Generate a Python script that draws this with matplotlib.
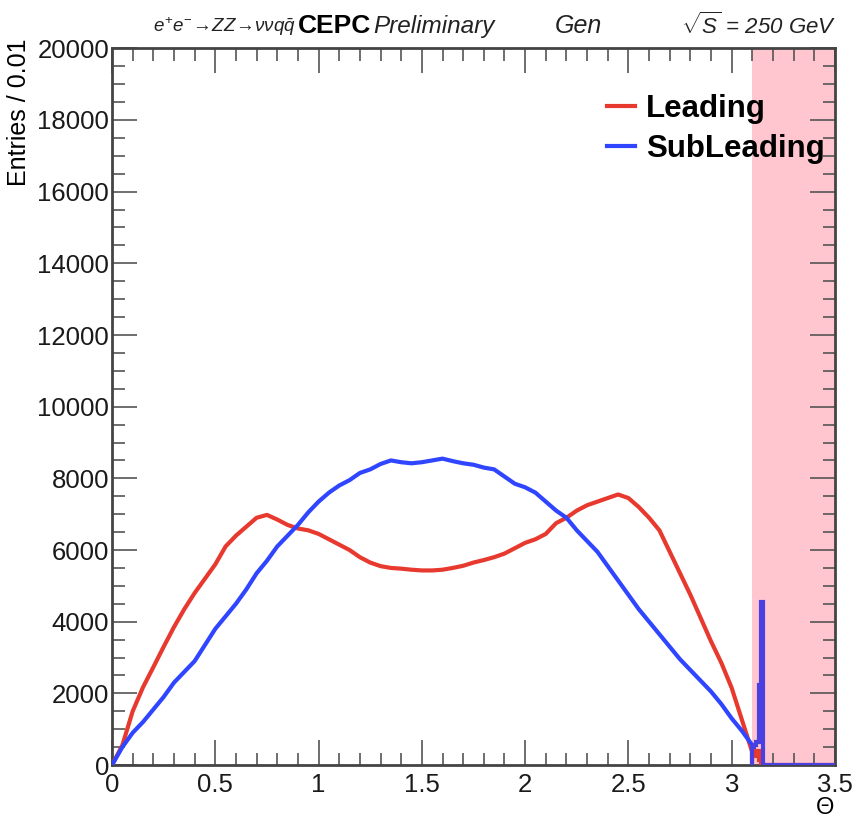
import matplotlib
matplotlib.use("Agg")
import matplotlib.pyplot as plt
from matplotlib.ticker import MultipleLocator

fam = ['Liberation Sans', 'DejaVu Sans']
plt.rcParams['font.family'] = fam
plt.rcParams['mathtext.fontset'] = 'custom'
plt.rcParams['mathtext.it'] = 'Liberation Sans:italic'
plt.rcParams['mathtext.rm'] = 'Liberation Sans'

# Bin centres (theta) and contents
theta = [0.00, 0.05, 0.10, 0.15, 0.20, 0.25, 0.30, 0.35, 0.40, 0.45,
         0.50, 0.55, 0.60, 0.65, 0.70, 0.75, 0.80, 0.85, 0.90, 0.95,
         1.00, 1.05, 1.10, 1.15, 1.20, 1.25, 1.30, 1.35, 1.40, 1.45,
         1.50, 1.55, 1.60, 1.65, 1.70, 1.75, 1.80, 1.85, 1.90, 1.95,
         2.00, 2.05, 2.10, 2.15, 2.20, 2.25, 2.30, 2.35, 2.40, 2.45,
         2.50, 2.55, 2.60, 2.65, 2.70, 2.75, 2.80, 2.85, 2.90, 2.95,
         3.00, 3.05, 3.10]
leading = [0, 550, 1500, 2170, 2730, 3300, 3850, 4350, 4800, 5200,
           5600, 6100, 6400, 6650, 6900, 6980, 6850, 6700, 6600, 6550,
           6450, 6300, 6150, 6000, 5800, 5650, 5550, 5500, 5480, 5450,
           5430, 5430, 5450, 5500, 5560, 5650, 5720, 5800, 5900, 6050,
           6200, 6300, 6450, 6750, 6900, 7100, 7250, 7350, 7450, 7550,
           7450, 7200, 6900, 6550, 5950, 5350, 4750, 4100, 3450, 2850,
           2150, 1250, 350]
subleading = [0, 500, 900, 1200, 1550, 1900, 2300, 2600, 2900, 3350,
              3800, 4150, 4500, 4900, 5350, 5700, 6100, 6400, 6700, 7050,
              7350, 7600, 7800, 7950, 8150, 8250, 8400, 8500, 8450, 8420,
              8450, 8500, 8550, 8480, 8420, 8380, 8300, 8250, 8050, 7850,
              7750, 7600, 7350, 7100, 6900, 6550, 6250, 5950, 5550, 5150,
              4750, 4350, 4000, 3650, 3300, 2950, 2650, 2350, 2050, 1700,
              1300, 950, 550]

# Tail bins (0.01 wide) near theta = pi
tail_edges = [3.10, 3.11, 3.12, 3.13, 3.14, 3.15, 3.50]
leading_tail = [300, 250, 400, 150, 0, 0]
subleading_tail = [500, 550, 650, 2230, 4540, 0]

band = (3.10, 3.50)

red = '#e8392f'
blue = '#2f45ff'

fs_tick = 18.5

fig = plt.figure(figsize=(8.57, 8.19), dpi=100)
ax = fig.add_axes([0.1307, 0.0659, 0.8436, 0.8751])

ax.axvspan(band[0], band[1], color='#ffc6cf', zorder=0, lw=0)

ax.plot(theta, leading, color=red, lw=3, zorder=3, label='Leading')
ax.plot(theta, subleading, color=blue, lw=3, zorder=4, label='SubLeading')
ax.stairs(leading_tail, tail_edges, color=red, lw=3, zorder=3)
ax.stairs(subleading_tail, tail_edges, color='#4a3fe0', lw=3, zorder=4)

ax.set_xlim(0, 3.5)
ax.set_ylim(0, 20000)

ax.xaxis.set_minor_locator(MultipleLocator(0.1))
ax.yaxis.set_major_locator(MultipleLocator(2000))
ax.yaxis.set_minor_locator(MultipleLocator(500))
ax.set_xticks([0, 0.5, 1, 1.5, 2, 2.5, 3, 3.5])
ax.set_xticklabels(['0', '0.5', '1', '1.5', '2', '2.5', '3', '3.5'])
ax.tick_params(which='both', direction='in', top=True, right=True,
               color='#555555', labelsize=fs_tick, width=1.2, labelcolor='#1a1a1a')
ax.tick_params(which='major', length=18)
ax.tick_params(which='minor', length=9)
ax.tick_params(axis='x', pad=6)
ax.tick_params(axis='y', pad=2)
for s in ax.spines.values():
    s.set_linewidth(2.0)
    s.set_color('#444444')

leg = ax.legend(loc='upper right', bbox_to_anchor=(1.025, 0.975), frameon=False,
                prop={'weight': 'bold', 'size': 22.5},
                handlelength=0.9, handletextpad=0.35, labelspacing=0.3)
for l in leg.get_lines():
    l.set_linewidth(3)

# Header texts
y_head = 0.953
fig.text(0.178, y_head, r'$e^{+}e^{-}\!\rightarrow\! ZZ\!\rightarrow\!\nu\nu q\bar{q}$',
         fontsize=13.5, ha='left', va='bottom', color='#222222')
fig.text(0.347, y_head, 'CEPC', fontsize=19, weight='bold', ha='left', va='bottom')
fig.text(0.435, y_head, 'Preliminary', fontsize=17.5, style='italic', ha='left', va='bottom',
         color='#222222')
fig.text(0.647, y_head, 'Gen', fontsize=18, style='italic', ha='left', va='bottom',
         color='#222222')
fig.text(0.976, y_head, r'$\sqrt{S}$ = 250 GeV', fontsize=16, style='italic',
         ha='right', va='bottom', color='#222222')

fig.text(0.008, 0.953, 'Entries / 0.01', rotation=90, fontsize=18, ha='left', va='top')
fig.text(0.963, 0.0, 'Θ', fontsize=17, ha='center', va='bottom')

fig.savefig('out.png', dpi=100)
